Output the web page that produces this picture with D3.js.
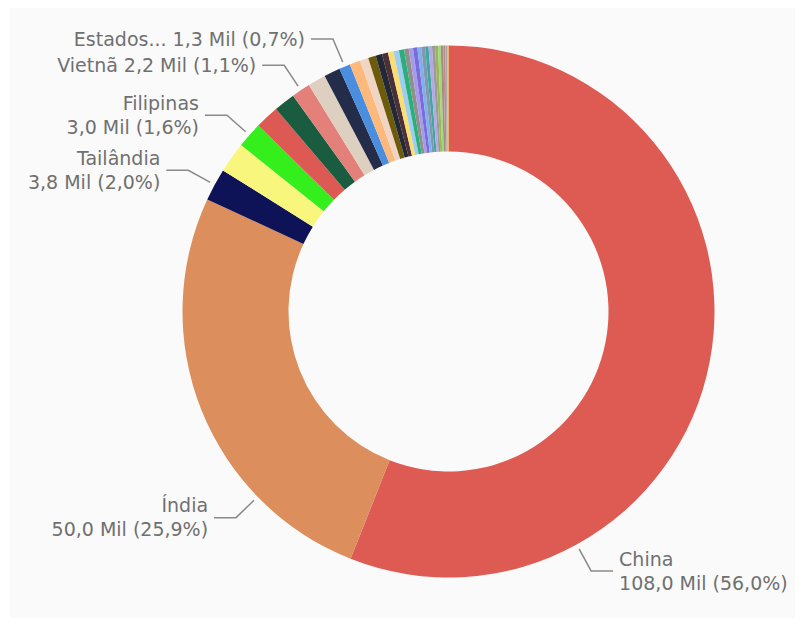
<!DOCTYPE html>
<html>
<head>
<meta charset="utf-8">
<script src="https://cdn.jsdelivr.net/npm/d3@7"></script>
<style>
  html, body { margin: 0; padding: 0; background: #ffffff; }
  svg { display: block; }
</style>
</head>
<body>
<svg id="chart" width="803" height="626"></svg>
<script>
// ---- data (values in "Mil") ----
const categories = [
  "China", "Índia", "Tailândia", "Indonésia", "Filipinas", "Bangladesh", "Japão",
  "Vietnã", "Coreia do Sul", "Mianmar", "Estados Unidos",
  "Paquistão", "Brasil", "Camboja", "Nepal", "Sri Lanka", "Egito", "Malásia",
  "Laos", "Irã", "Nigéria", "Madagascar", "Peru", "Colômbia", "Equador",
  "Itália", "Espanha", "Austrália", "Rússia", "Turquia", "México", "Argentina", "Uruguai"
];
const values = [
  108.0, 50.0, 3.8, 3.6, 3.0, 2.8, 2.5,
  2.2, 2.1, 1.9, 1.3,
  1.25, 1.0, 0.9, 0.75, 0.7, 0.65, 0.65,
  0.6, 0.55, 0.5, 0.5, 0.45, 0.45, 0.4,
  0.4, 0.35, 0.35, 0.3, 0.3, 0.25, 0.2, 0.16
];
const colors = [
  "#DD5B52", "#DC8E5C", "#0E1358", "#F8F67D", "#34EF1C", "#DC5A53", "#1A5C3F",
  "#E38079", "#DDD0C0", "#232C48", "#4A8EE0",
  "#FDB97B", "#F0D4C4", "#6C5B0A", "#222838", "#4B3038", "#FBDE70", "#9ECDF0",
  "#29B07A", "#8E918A", "#A59BE9", "#7A6CDD", "#7FB1E8", "#8198B0", "#3FA6A0",
  "#B6A8E6", "#9A9A9A", "#9AB55A", "#A4D67A", "#A09080", "#C08A8A", "#A8A8A8", "#F0B840"
];
// labelled slices: shown name, position of leader start within slice (0..1), single-line or two-line
const labelNames = ["China", "Índia", "Tailândia", "Filipinas", "Vietnã", "Estados Unidos"];
const labelShown = ["China", "Índia", "Tailândia", "Filipinas", "Vietnã", "Estados..."];
const labelAt    = [0.75, 0.26, 0.5, 0.5, 0.5, 0.5];
const labelOneLine = [false, false, false, false, true, true];

// ---- layout ----
const W = 803, H = 626;
const cx = 448.5, cy = 311.5;
const rOuter = 266, rInner = 160;
const rLeadStart = 271, rElbow = 296, hLen = 22, textGap = 6;

const svg = d3.select("#chart");
svg.append("rect").attr("x", 10).attr("y", 8).attr("width", 785).attr("height", 610)
  .attr("fill", "#fafafa");

const data = categories.map((c, i) => ({ name: c, value: values[i], color: colors[i] }));
const total = d3.sum(values);

const pie = d3.pie().sort(null).value(d => d.value);
const arcs = pie(data);
const arc = d3.arc().innerRadius(rInner).outerRadius(rOuter);

const g = svg.append("g").attr("transform", `translate(${cx},${cy})`);
g.selectAll("path.slice").data(arcs).join("path")
  .attr("class", "slice")
  .attr("d", arc)
  .attr("fill", d => d.data.color);

const fmtNum = v => v.toFixed(1).replace(".", ",");
const pt = (a, r) => [r * Math.sin(a), -r * Math.cos(a)];

const labelG = g.append("g");
labelNames.forEach((name, i) => {
  const a = arcs.find(d => d.data.name === name);
  const ang = a.startAngle + labelAt[i] * (a.endAngle - a.startAngle);
  const p0 = pt(ang, rLeadStart);
  const p1 = pt(ang, rElbow);
  const right = p1[0] > 0;
  const p2 = [p1[0] + (right ? hLen : -hLen), p1[1]];
  labelG.append("polyline")
    .attr("points", [p0, p1, p2].map(p => p.join(",")).join(" "))
    .attr("fill", "none").attr("stroke", "#8a8a8a").attr("stroke-width", 1.5);
  const pct = fmtNum(a.data.value / total * 100) + "%";
  const valText = `${fmtNum(a.data.value)} Mil (${pct})`;
  const tx = p2[0] + (right ? textGap : -textGap);
  const t = labelG.append("text")
    .attr("x", tx).attr("y", p2[1])
    .attr("text-anchor", right ? "start" : "end")
    .attr("font-family", "DejaVu Sans, sans-serif")
    .attr("font-size", 19)
    .attr("fill", "#707070");
  if (labelOneLine[i]) {
    t.attr("dy", "0.35em").text(`${labelShown[i]} ${valText}`);
  } else {
    t.append("tspan").attr("x", tx).attr("dy", "-0.28em").text(labelShown[i]);
    t.append("tspan").attr("x", tx).attr("dy", "1.26em").text(valText);
  }
});
</script>
</body>
</html>
